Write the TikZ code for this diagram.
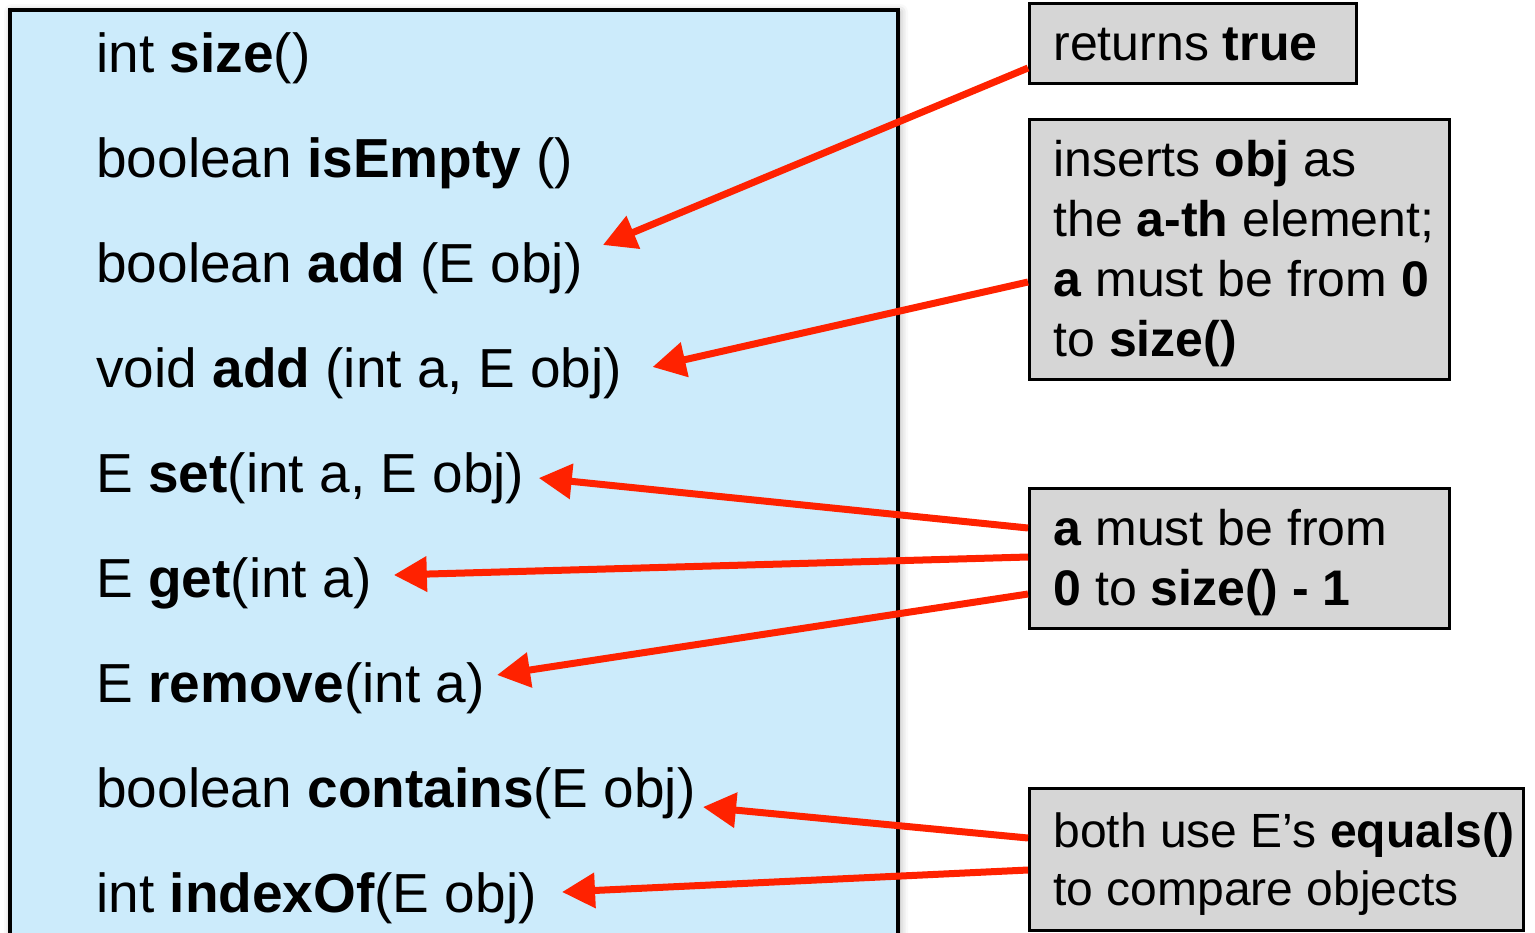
\documentclass[tikz,border=0pt]{standalone}
\usepackage{fontspec}
\setmainfont{Liberation Sans}
\usetikzlibrary{arrows.meta,calc,shadows.blur}
\definecolor{listblue}{RGB}{204,235,251}
\definecolor{notegray}{RGB}{214,214,214}
\definecolor{arrowred}{RGB}{255,34,0}
\tikzset{
  method/.style={anchor=base west,inner sep=0pt,font=\fontsize{27.5}{33}\selectfont},
  notebox/.style={draw,line width=1.5pt,fill=notegray,anchor=north west,inner sep=0pt},
  % base of a multi-line note is the baseline of its last line
  notetext/.style={anchor=base west,inner sep=0pt,align=left,font=\fontsize{25}{30}\selectfont},
  pointer/.style={draw=arrowred,line width=3.5pt,-{Triangle[length=16.5pt,width=17pt]}}
}

\begin{document}
\begin{tikzpicture}[x=0.5pt,y=-0.5pt,line join=miter]
\useasboundingbox (0,0) rectangle (1535,932);
% the list interface, running off the bottom
\begin{scope}
  \clip (0,0) rectangle (1535,932);
  \draw [line width=2pt,fill=listblue,
    blur shadow={shadow xshift=1pt,shadow yshift=-1pt,shadow blur radius=4pt,shadow opacity=35}]
    (10,10) rectangle (898,990);
\end{scope}

\node[method] (size)     at (96,72)  {int \textbf{size}()};
\node[method] (isempty)  at (96,177) {boolean \textbf{isEmpty} ()};
\node[method] (addobj)   at (96,282) {boolean \textbf{add} (E obj)};
\node[method] (addidx)   at (96,387) {void \textbf{add} (int a, E obj)};
\node[method] (set)      at (96,492) {E \textbf{set}(int a, E obj)};
\node[method] (get)      at (96,597) {E \textbf{get}(int a)};
\node[method] (remove)   at (96,702) {E \textbf{remove}(int a)};
\node[method] (contains) at (96,807) {boolean \textbf{contains}(E obj)};
\node[method] (indexof)  at (96,912) {int \textbf{indexOf}(E obj)};

% notes on the right
\node[notebox,minimum width=163.5pt,minimum height=40pt] (ret) at (1028,2) {};
\node[notetext] (rettext) at ($(ret.north west)+(25,58)$) {returns \textbf{true}};

\node[notebox,minimum width=210pt,minimum height=130pt] (ins) at (1028,118) {};
\node[notetext] (instext) at ($(ins.north west)+(25,238)$)
  {inserts \textbf{obj} as\\the \textbf{a-th} element;\\\textbf{a} must be from \textbf{0}\\to \textbf{size()}};

\node[notebox,minimum width=210pt,minimum height=70pt] (rng) at (1028,487) {};
\node[notetext] (rngtext) at ($(rng.north west)+(25,118)$)
  {\textbf{a} must be from\\\textbf{0} to \textbf{size() - 1}};

\node[notebox,minimum width=247pt,minimum height=71pt] (eq) at (1028,787) {};
\node[notetext,font=\fontsize{24}{29}\selectfont] (eqtext) at ($(eq.north west)+(25,118)$)
  {both use E’s \textbf{equals()}\\to compare objects};

% pointers
\draw[pointer] ($(ret.south west)+(0,-17)$) -- ($(addobj.base east)+(20,-37)$);
\draw[pointer] ($(ins.north west)+(0,164)$) -- ($(addidx.base east)+(30,-20)$);
\draw[pointer] ($(rng.north west)+(0,41)$)  -- ($(set.base east)+(14,-14)$);
\draw[pointer] ($(rng.north west)+(0,70)$)  -- ($(get.base east)+(22,-22)$);
\draw[pointer] ($(rng.north west)+(0,107)$) -- ($(remove.base east)+(12,-27)$);
\draw[pointer] ($(eq.north west)+(0,51)$)   -- ($(contains.base east)+(7,0)$);
\draw[pointer] ($(eq.north west)+(0,83)$)   -- ($(indexof.base east)+(25,-20)$);
\end{tikzpicture}
\end{document}
